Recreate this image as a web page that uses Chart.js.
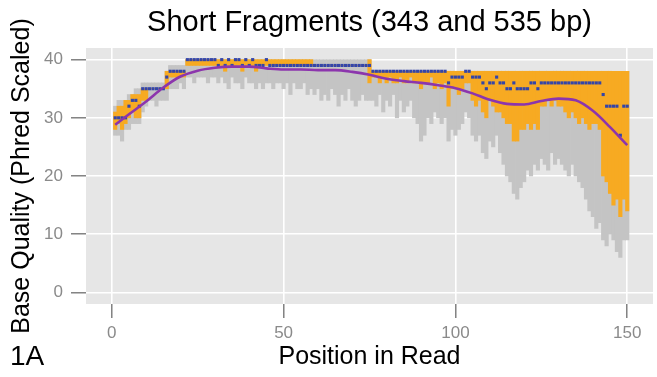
<!DOCTYPE html>
<html>
<head>
<meta charset="utf-8">
<script src="https://cdn.jsdelivr.net/npm/chart.js@4.4.1/dist/chart.umd.min.js"></script>
<style>
  html, body { margin: 0; padding: 0; background: #fff; }
  canvas { display: block; }
</style>
</head>
<body>
<canvas id="myChart" width="657" height="377"></canvas>
<script>
// position in read, 1..150
const positions = Array.from({ length: 150 }, (_, i) => i + 1);

// median quality per position
const medianQ = [
  30,30,30,30,32,33,33,32,35,35, 35,35,35,35,35,37,38,38,38,38,
  38,40,40,40,40,40,40,40,40,40, 39,40,39,40,39,40,40,39,40,39,
  40,39,39,39,40,39,39,39,39,39, 39,39,39,39,39,39,39,39,39,39,
  39,39,39,39,39,39,39,39,39,39, 39,39,39,39,39,38,38,38,38,38,
  38,38,38,38,38,38,38,38,38,38, 38,38,38,38,38,38,38,36,37,37,
  37,37,38,38,37,37,37,36,35,36, 36,37,36,36,35,35,36,35,35,35,
  35,36,36,35,36,36,36,36,36,36, 36,36,36,36,36,36,36,36,36,36,
  36,36,34,32,32,32,32,27,32,32
];

// lower quartile
const q1 = [
  28,29,28,29,30,31,30,30,33,33, 35,35,35,35,35,35,37,37,37,37,
  37,39,39,39,39,39,39,39,39,39, 39,39,38,39,39,39,39,38,39,39,
  39,38,39,39,39,39,39,39,39,39, 39,39,39,39,39,39,39,39,39,39,
  39,39,39,39,39,39,39,39,39,39, 39,39,39,39,36,37,37,36,37,36,
  37,36,36,37,36,36,37,36,36,35, 36,36,37,35,36,35,36,32,35,35,
  34,35,36,36,33,32,33,31,30,33, 32,31,31,30,29,29,26,26,28,28,
  29,28,29,28,32,32,33,32,33,32, 32,31,30,31,30,29,30,29,28,29,
  29,28,20,19,17,15,16,13,16,14
];

// upper quartile
const q3 = [
  31,32,32,33,33,34,34,34,35,35, 35,35,35,35,35,38,38,38,38,38,
  38,40,40,40,40,40,40,40,40,40, 40,40,40,40,40,40,40,40,40,40,
  40,40,40,40,40,40,40,40,40,40, 40,40,40,40,40,40,40,40,39,39,
  39,39,39,39,39,39,39,39,39,39, 39,39,39,39,40,38,38,38,38,38,
  38,38,38,38,38,38,38,38,38,38, 38,38,38,38,38,38,38,38,38,38,
  38,38,38,38,38,38,38,38,38,38, 38,38,38,38,38,38,38,38,38,38,
  38,38,38,38,38,38,38,38,38,38, 38,38,38,38,38,38,38,38,38,38,
  38,38,38,38,38,38,38,38,38,38
];

// whisker ends (grey bars)
const whiskLo = [
  27,27,26,28,28,29,29,29,31,32, 33,33,32,33,33,33,35,35,35,36,
  35,37,37,36,37,37,37,36,37,37, 36,37,36,35,37,36,36,35,37,36,
  36,35,36,35,36,36,35,36,36,35, 36,34,36,35,35,36,34,35,34,35,
  33,34,33,35,34,32,34,33,35,33, 32,33,34,33,33,33,32,34,31,33,
  32,34,30,33,31,32,33,30,29,26, 27,30,29,31,30,29,30,26,28,27,
  28,29,31,30,27,26,27,24,23,26, 25,27,24,22,20,19,17,16,18,19,
  21,20,22,21,23,22,21,24,22,23, 22,21,20,22,20,19,18,16,14,13,
  11,12,9,8,10,9,7,6,9,9
];
const whiskHi = [
  32,33,33,33,34,34,35,35,36,36, 36,36,36,36,36,38,39,39,39,39,
  39,40,40,40,40,40,40,40,40,40, 40,40,40,40,40,40,40,40,40,40,
  40,40,40,40,40,40,40,40,40,40, 40,40,40,40,40,40,40,40,40,40,
  40,40,40,40,40,40,40,40,40,40, 40,40,40,40,40,38,38,38,38,38,
  38,38,38,38,38,38,38,38,38,38, 38,38,38,38,38,38,38,38,38,38,
  38,38,38,38,38,38,38,38,38,38, 38,38,38,38,38,38,38,38,38,38,
  38,38,38,38,38,38,38,38,38,38, 38,38,38,38,38,38,38,38,38,38,
  38,38,38,38,38,38,38,38,38,38
];

// smoothed trend (purple)
const smoothPos = [1,5,10,15,20,25,30,35,40,45,50,55,60,65,70,75,80,85,90,95,100,105,110,115,120,125,130,135,140,145,150];
const smoothVal = [28.8,30.6,32.8,35.2,37.1,38.1,38.6,38.8,38.8,38.5,38.3,38.3,38.2,38.2,37.9,37.4,36.7,36.3,36.0,35.6,35.1,34.2,33.1,32.4,32.3,32.9,33.3,33.0,31.2,28.4,25.3];

const xTicks = [0, 50, 100, 150];
const yTicks = [0, 10, 20, 30, 40];

const FONT = '"Liberation Sans", Arial, Helvetica, sans-serif';

const panelBg = {
  id: 'panelBg',
  beforeDraw(chart) {
    const { ctx, chartArea: a } = chart;
    ctx.save();
    ctx.fillStyle = '#e6e6e6';
    ctx.fillRect(a.left, a.top, a.right - a.left, a.bottom - a.top);
    ctx.restore();
  }
};

const labels = {
  id: 'labels',
  afterDraw(chart) {
    const { ctx, chartArea: a } = chart;
    const cx = (a.left + a.right) / 2;
    ctx.save();
    ctx.fillStyle = '#000';
    ctx.textAlign = 'center';
    ctx.textBaseline = 'middle';
    ctx.font = '29px ' + FONT;
    ctx.fillText('Short Fragments (343 and 535 bp)', cx, 23);
    ctx.font = '25px ' + FONT;
    ctx.fillText('Position in Read', cx, 357);
    ctx.save();
    ctx.translate(22, (a.top + a.bottom) / 2);
    ctx.rotate(-Math.PI / 2);
    ctx.fillText('Base Quality (Phred Scaled)', 0, 0);
    ctx.restore();
    ctx.textAlign = 'left';
    ctx.font = '28px ' + FONT;
    ctx.fillText('1A', 10, 357);
    ctx.restore();
  }
};

const ctx = document.getElementById('myChart').getContext('2d');
new Chart(ctx, {
  type: 'bar',
  data: {
    datasets: [
      {
        type: 'line',
        data: smoothPos.map((p, i) => ({ x: p, y: smoothVal[i] })),
        borderColor: '#8c35ad',
        borderWidth: 2.6,
        pointRadius: 0,
        tension: 0.4,
        cubicInterpolationMode: 'monotone',
        order: 0
      },
      {
        type: 'line',
        data: positions.map((p, i) => ({ x: p, y: medianQ[i] })),
        showLine: false,
        pointStyle: 'rect',
        pointRadius: 2.2,
        pointBackgroundColor: '#3445a8',
        pointBorderWidth: 0,
        order: 1
      },
      {
        data: positions.map((p, i) => ({ x: p, y: [q1[i], q3[i]] })),
        backgroundColor: '#f7aa22',
        barThickness: 3.5,
        grouped: false,
        order: 2
      },
      {
        data: positions.map((p, i) => ({ x: p, y: [whiskLo[i], whiskHi[i]] })),
        backgroundColor: '#c4c4c4',
        barThickness: 3.5,
        grouped: false,
        order: 3
      }
    ]
  },
  options: {
    responsive: false,
    animation: false,
    devicePixelRatio: 1,
    layout: { padding: { top: 48, left: 0, right: 0, bottom: 0 } },
    plugins: { legend: { display: false }, tooltip: { enabled: false }, title: { display: false } },
    scales: {
      x: {
        type: 'linear',
        min: -7.5,
        max: 157.5,
        offset: false,
        afterBuildTicks: s => { s.ticks = xTicks.map(v => ({ value: v })); },
        afterFit: s => { s.height = 73; },
        grid: { color: '#ffffff', lineWidth: 1.6, offset: false, tickColor: '#6e6e6e', tickLength: 14, tickWidth: 1.3 },
        border: { display: false },
        ticks: { color: '#8a8a8a', font: { family: FONT, size: 17 }, padding: 5, maxRotation: 0 }
      },
      y: {
        type: 'linear',
        min: -2,
        max: 42,
        afterBuildTicks: s => { s.ticks = yTicks.map(v => ({ value: v })); },
        afterFit: s => { s.width = 86; },
        grid: { color: '#ffffff', lineWidth: 1.6, tickColor: '#6e6e6e', tickLength: 15, tickWidth: 1.3 },
        border: { display: false },
        ticks: { color: '#8a8a8a', font: { family: FONT, size: 17 }, padding: 8 }
      }
    }
  },
  plugins: [panelBg, labels]
});
</script>
</body>
</html>
